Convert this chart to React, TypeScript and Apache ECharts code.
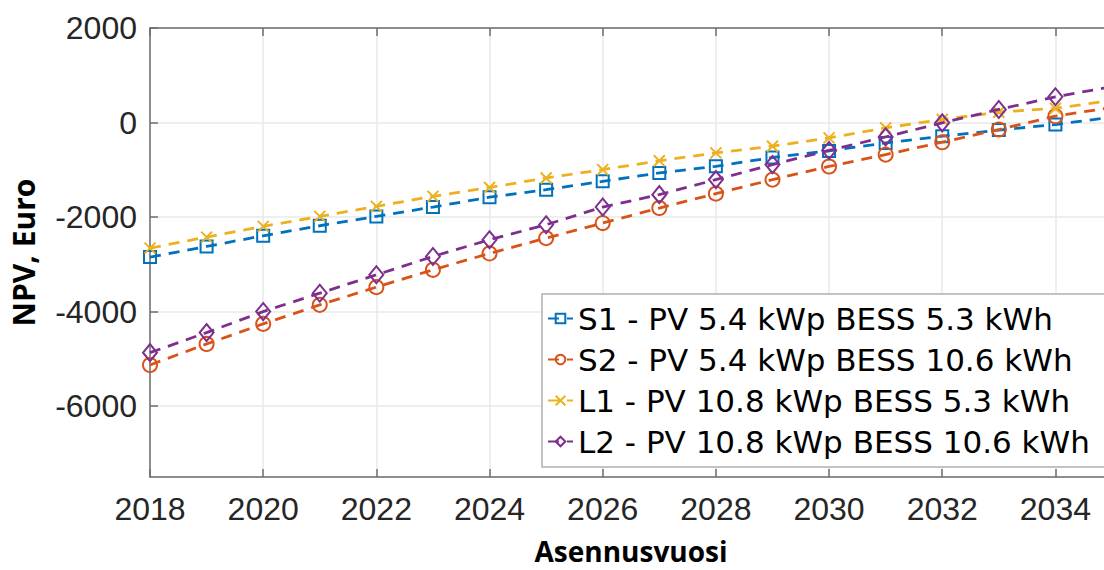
import React, { useEffect, useRef } from "react";
import * as echarts from "echarts";

const years = [2018, 2019, 2020, 2021, 2022, 2023, 2024, 2025, 2026, 2027, 2028, 2029, 2030, 2031, 2032, 2033, 2034, 2035];
const s1Values = [-2847, -2622, -2396, -2184, -1986, -1788, -1580, -1420, -1244, -1067, -926, -740, -600, -431, -290, -160, -42, 115];
const s2Values = [-5130, -4685, -4261, -3858, -3483, -3116, -2770, -2445, -2127, -1809, -1505, -1208, -930, -678, -417, -148, 134, 320];
const l1Values = [-2657, -2424, -2198, -1986, -1774, -1562, -1375, -1173, -996, -810, -643, -502, -325, -113, 64, 219, 300, 470];
const l2Values = [-4869, -4445, -4000, -3611, -3222, -2834, -2480, -2162, -1788, -1526, -1208, -890, -590, -304, -7, 276, 544, 760];
const seriesNames = [
  "S1 - PV 5.4 kWp BESS 5.3 kWh",
  "S2 - PV 5.4 kWp BESS 10.6 kWh",
  "L1 - PV 10.8 kWp BESS 5.3 kWh",
  "L2 - PV 10.8 kWp BESS 10.6 kWh",
];
const xAxisName = "Asennusvuosi";
const yAxisName = "NPV, Euro";

const colors = ["#0072BD", "#D95319", "#EDB120", "#7E2F8E"];
const symbols = ["rect", "circle", "path://M0,0L10,10M0,10L10,0", "diamond"];
const symbolSizes: any[] = [12, 14, 11, [14, 17]];

export default function App() {
  const ref = useRef<HTMLDivElement>(null);
  useEffect(() => {
    if (!ref.current) return;
    const chart = echarts.init(ref.current, undefined, { renderer: "svg" });
    const valueSets = [s1Values, s2Values, l1Values, l2Values];
    const axisColor = "#6e6e6e";
    const labelFont = "Liberation Sans";
    chart.setOption({
      animation: false,
      backgroundColor: "#ffffff",
      grid: {
        left: 150,
        top: 28,
        width: 962,
        height: 449,
        containLabel: false,
        outerBoundsMode: "none",
      },
      legend: {
        orient: "vertical",
        left: 542,
        top: 294,
        padding: [9, 30, 10, 5],
        itemGap: 10,
        itemWidth: 25,
        itemHeight: 12,
        backgroundColor: "#ffffff",
        borderColor: "#b0b0b0",
        borderWidth: 1.5,
        borderRadius: 0,
        data: seriesNames,
        textStyle: {
          fontFamily: "DejaVu Sans",
          fontSize: 31,
          lineHeight: 31,
          color: "#000000",
        },
      },
      xAxis: [
        {
          type: "value",
          min: 2018,
          max: 2035,
          interval: 2,
          name: xAxisName,
          nameLocation: "middle",
          nameGap: 60,
          nameTextStyle: {
            fontFamily: "Open Sans",
            fontWeight: "bold",
            fontSize: 28,
            lineHeight: 28,
            color: "#000000",
          },
          axisLine: { show: true, onZero: false, lineStyle: { color: axisColor, width: 1.5 } },
          axisTick: { show: true, inside: true, length: 8, lineStyle: { color: axisColor, width: 1.5 } },
          axisLabel: {
            fontFamily: labelFont,
            fontSize: 32,
            color: "#262626",
            margin: 16,
            showMaxLabel: false,
            formatter: (v: number) => String(v),
          },
          splitLine: { show: true, lineStyle: { color: "#e8e8e8", width: 1.5 } },
        },
        {
          type: "value",
          position: "top",
          min: 2018,
          max: 2035,
          interval: 2,
          axisLine: { show: true, onZero: false, lineStyle: { color: axisColor, width: 1.5 } },
          axisTick: { show: true, inside: true, length: 8, lineStyle: { color: axisColor, width: 1.5 } },
          axisLabel: { show: false },
          splitLine: { show: false },
        },
      ],
      yAxis: {
        type: "value",
        min: -7500,
        max: 2000,
        minInterval: 2000,
        maxInterval: 2000,
        name: yAxisName,
        nameLocation: "middle",
        nameGap: 112,
        nameTextStyle: {
          fontFamily: "Open Sans",
          fontWeight: "bold",
          fontSize: 30,
          color: "#000000",
        },
        axisLine: { show: true, onZero: false, lineStyle: { color: axisColor, width: 1.5 } },
        axisTick: { show: true, inside: true, length: 8, lineStyle: { color: axisColor, width: 1.5 } },
        axisLabel: {
          fontFamily: labelFont,
          fontSize: 32,
          color: "#262626",
          margin: 13,
          showMinLabel: false,
          formatter: (v: number) => String(v),
        },
        splitLine: { show: true, lineStyle: { color: "#e8e8e8", width: 1.5 } },
      },
      series: seriesNames.map((name, i) => ({
        name,
        type: "line",
        xAxisIndex: 0,
        data: years.map((y, j) => [y, valueSets[i][j]]),
        symbol: symbols[i],
        symbolSize: symbolSizes[i],
        showAllSymbol: true,
        lineStyle: { color: colors[i], width: 2.8, type: [11, 8] },
        itemStyle: { color: "rgba(0,0,0,0)", borderColor: colors[i], borderWidth: 2 },
        emphasis: { disabled: true },
        z: 2 + i,
      })),
    });
    return () => chart.dispose();
  }, []);
  return (
    <div
      ref={ref}
      style={{ position: "absolute", left: 0, top: 0, width: 1104, height: 570 }}
    />
  );
}
